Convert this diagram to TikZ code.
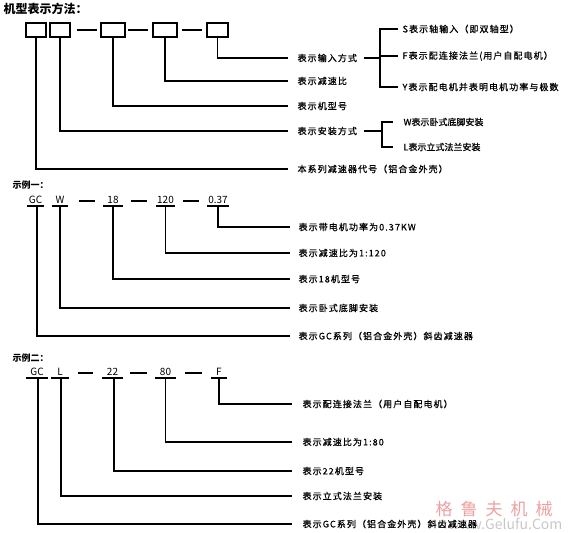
\documentclass[tikz,border=0pt]{standalone}
\usepackage{fontspec}
\setmainfont{Noto Sans CJK SC}
\newfontfamily\labfont[LetterSpace=12,FakeBold=0.7]{Noto Sans CJK SC}
\newfontfamily\labnfont[FakeBold=0.7]{Noto Sans CJK SC}
\newfontfamily\wmfont[LetterSpace=47]{Noto Sans CJK SC}
\definecolor{wmpink}{RGB}{238,160,160}
\definecolor{wmgray}{RGB}{200,200,200}
\begin{document}
\begin{tikzpicture}[x=1pt,y=-1pt,line width=1.15pt,
  box/.style={draw,minimum width=#1,minimum height=14pt,inner sep=0pt},
  lab/.style={anchor=west,inner sep=0pt,font=\labfont\fontsize{9}{11}\selectfont},
  labn/.style={anchor=west,inner sep=0pt,font=\labnfont\fontsize{9}{11}\selectfont},
  code/.style={anchor=south,inner xsep=0pt,inner ysep=2pt,minimum width=#1,text height=7pt,text depth=0pt,font=\fontsize{10}{12}\selectfont},
  head/.style={anchor=west,inner sep=0pt,font=\bfseries\fontsize{9}{11}\selectfont},
  sep/.style={line width=1.15pt}]
\fill[white] (0,0) rectangle (568,533);
\useasboundingbox (0,0) rectangle (568,533);

% watermark
\node[anchor=west,inner sep=0pt,text=wmpink,font=\wmfont\fontsize{17}{19}\selectfont] (wm1) at (435,509) {格鲁夫机械};
\node[anchor=east,inner sep=0pt,text=wmgray,font=\fontsize{14}{16}\selectfont] (wm2) at (563,524) {www.Gelufu.Com};

% ---------- section 1 ----------
\node[anchor=west,inner sep=0pt,font=\bfseries\fontsize{12}{14}\selectfont] (title) at (3,9) {机型表示方法：};
\node[box=20pt] (b1) at (36,30) {};
\node[box=20pt] (b2) at (60,30) {};
\node[box=24pt] (b3) at (113,30) {};
\node[box=24pt] (b4) at (165,30) {};
\node[box=21pt] (b5) at (217.5,30) {};
\draw[sep] (77,30) -- (97,30);
\draw[sep] (128,30) -- (148,30);
\draw[sep] (182,30) -- (202,30);

\node[lab] (l5) at (297,58) {表示输入方式};
\node[lab] (l4) at (297,81) {表示减速比};
\node[lab] (l3) at (297,106) {表示机型号};
\node[lab] (l2) at (297,131) {表示安装方式};
\node[lab] (l1) at (297,169) {本系列减速器代号（铝合金外壳）};

\draw (b5.south) |- ([xshift=-9pt]l5.west);
\draw (b4.south) |- ([xshift=-9pt]l4.west);
\draw (b3.south) |- ([xshift=-9pt]l3.west);
\draw (b2.south) |- ([xshift=-9pt]l2.west);
\draw (b1.south) |- ([xshift=-9pt]l1.west);

% input bracket
\coordinate (bi) at (380,58);
\node[lab] (s) at (402,29) {S表示轴输入（即双轴型）};
\node[lab] (f) at (402,56) {F表示配连接法兰(用户自配电机）};
\node[lab] (y) at (402,87) {Y表示配电机并表明电机功率与极数};
\draw ([xshift=6pt]l5.east) -- (bi);
\draw ([xshift=-4pt]f.west) -- (f.west -| bi);
\draw ([xshift=-4pt]s.west) -| (bi) |- ([xshift=-4pt]y.west);

% mount bracket
\coordinate (bm) at (382,131);
\node[labn] (w) at (403,122) {W表示卧式底脚安装};
\node[labn] (l) at (403,147) {L表示立式法兰安装};
\draw ([xshift=6pt]l2.east) -- (bm);
\draw ([xshift=-10pt]w.west) -| (bm) |- ([xshift=-10pt]l.west);

% ---------- example 1 ----------
\node[head] (ex1) at (12,185) {示例一：};
\node[code=15pt] (c1) at (35.5,206) {GC};
\node[code=14pt] (c2) at (60,206) {W};
\node[code=18pt] (c3) at (113,206) {18};
\node[code=17pt] (c4) at (165.5,206) {120};
\node[code=20pt] (c5) at (218,206) {0.37};
\foreach \n in {c1,c2,c3,c4,c5} \draw (\n.south west) -- (\n.south east);
\draw[sep] (79,201) -- (95,201);
\draw[sep] (131,201) -- (147,201);
\draw[sep] (183,201) -- (199,201);

\node[lab] (e5) at (298,227) {表示带电机功率为0.37KW};
\node[lab] (e4) at (298,253) {表示减速比为1:120};
\node[lab] (e3) at (298,279) {表示18机型号};
\node[lab] (e2) at (298,308) {表示卧式底脚安装};
\node[lab] (e1) at (298,336) {表示GC系列（铝合金外壳）斜齿减速器};

\draw (c5.south) |- ([xshift=-8pt]e5.west);
\draw (c4.south) |- ([xshift=-8pt]e4.west);
\draw (c3.south) |- ([xshift=-8pt]e3.west);
\draw (c2.south) |- ([xshift=-8pt]e2.west);
\draw ([xshift=1.5pt]c1.south) |- ([xshift=-8pt]e1.west);

% ---------- example 2 ----------
\node[head] (ex2) at (12,358) {示例二：};
\node[code=20pt] (d1) at (37,378) {GC};
\node[code=16pt] (d2) at (60,378) {L};
\node[code=19pt] (d3) at (112.5,378) {22};
\node[code=19pt] (d4) at (165.5,378) {80};
\node[code=14pt] (d5) at (219,378) {F};
\foreach \n in {d1,d2,d3,d4,d5} \draw (\n.south west) -- (\n.south east);
\draw[sep] (78,373) -- (93,373);
\draw[sep] (130,373) -- (147,373);
\draw[sep] (185,373) -- (202,373);

\node[lab] (g5) at (302,404) {表示配连接法兰（用户自配电机）};
\node[lab] (g4) at (302,442) {表示减速比为1:80};
\node[lab] (g3) at (302,471) {表示22机型号};
\node[lab] (g2) at (302,496) {表示立式法兰安装};
\node[lab] (g1) at (302,524) {表示GC系列（铝合金外壳）斜齿减速器};

\draw (d5.south) |- ([xshift=-10pt]g5.west);
\draw (d4.south) |- ([xshift=-10pt]g4.west);
\draw ([xshift=1.5pt]d3.south) |- ([xshift=-10pt]g3.west);
\draw ([xshift=1pt]d2.south) |- ([xshift=-10pt]g2.west);
\draw ([xshift=1pt]d1.south) |- ([xshift=-10pt]g1.west);
\end{tikzpicture}
\end{document}
